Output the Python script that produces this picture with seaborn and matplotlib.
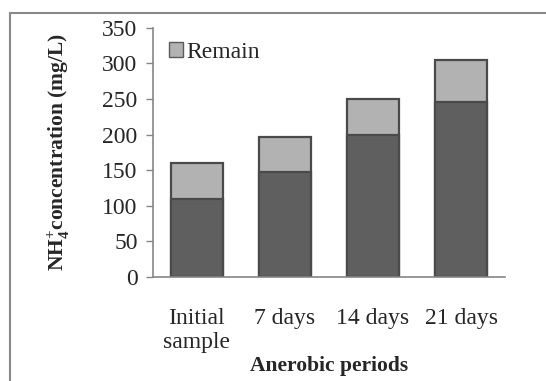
import matplotlib
matplotlib.use("Agg")
import matplotlib.pyplot as plt
import seaborn as sns
import pandas as pd
from matplotlib.patches import Rectangle

periods = ["Initial\nsample", "7 days", "14 days", "21 days"]
removed = [110, 147, 200, 246]
total = [160, 197, 250, 305]

sns.set_style("white")
plt.rcParams["font.family"] = ["Liberation Serif", "DejaVu Serif"]
plt.rcParams["mathtext.fontset"] = "custom"
plt.rcParams["mathtext.rm"] = "Liberation Serif"
plt.rcParams["mathtext.bf"] = "Liberation Serif:bold"

df = pd.DataFrame({"period": periods, "removed": removed, "total": total})

fig = plt.figure(figsize=(5.46, 3.81), dpi=100)
ax = fig.add_axes([0.280, 0.273, 0.645, 0.654])

# stacked look: full height in light gray, then the lower part in dark gray
sns.barplot(data=df, x="period", y="total", color="#b2b2b2", saturation=1,
            width=0.59, edgecolor="#4a4a4a", linewidth=1.6, ax=ax, label="Remain")
sns.barplot(data=df, x="period", y="removed", color="#5f5f5f", saturation=1,
            width=0.59, edgecolor="#4a4a4a", linewidth=1.6, ax=ax)

ax.set_ylim(0, 350)
ax.set_xlim(-0.5, 3.5)
ax.set_yticks(range(0, 351, 50))
ax.tick_params(axis="y", labelsize=17, length=5, width=1, color="#868686",
               direction="out", left=True, pad=6)
ax.tick_params(axis="x", labelsize=17, length=0, pad=22)

for s in ["top", "right"]:
    ax.spines[s].set_visible(False)
for s in ["left", "bottom"]:
    ax.spines[s].set_color("#868686")
    ax.spines[s].set_linewidth(1.2)

ax.set_xlabel("Anerobic periods", fontsize=15.5, fontweight="bold", labelpad=2)
ax.set_ylabel(r"$\mathbf{NH}_\mathbf{4}^\mathbf{+}$concentration (mg/L)",
              fontsize=15.5, fontweight="bold", labelpad=22)

leg = ax.legend(loc="upper left", frameon=False, fontsize=17, handlelength=0.6,
                handleheight=0.6, handletextpad=0.15, borderaxespad=0.2,
                bbox_to_anchor=(0.005, 1.0))
for h in leg.legend_handles:
    h.set_edgecolor("#5a5a5a")
    h.set_linewidth(1.0)

# outer frame of the chart area, cut off at right and bottom like the source
fig.patches.append(Rectangle((9.5 / 546, -0.1), 1.2, (381 - 12.5) / 381 + 0.1,
                             transform=fig.transFigure, fill=False,
                             edgecolor="#8a8a8a", linewidth=1.5))

fig.savefig("out.png", dpi=100)
